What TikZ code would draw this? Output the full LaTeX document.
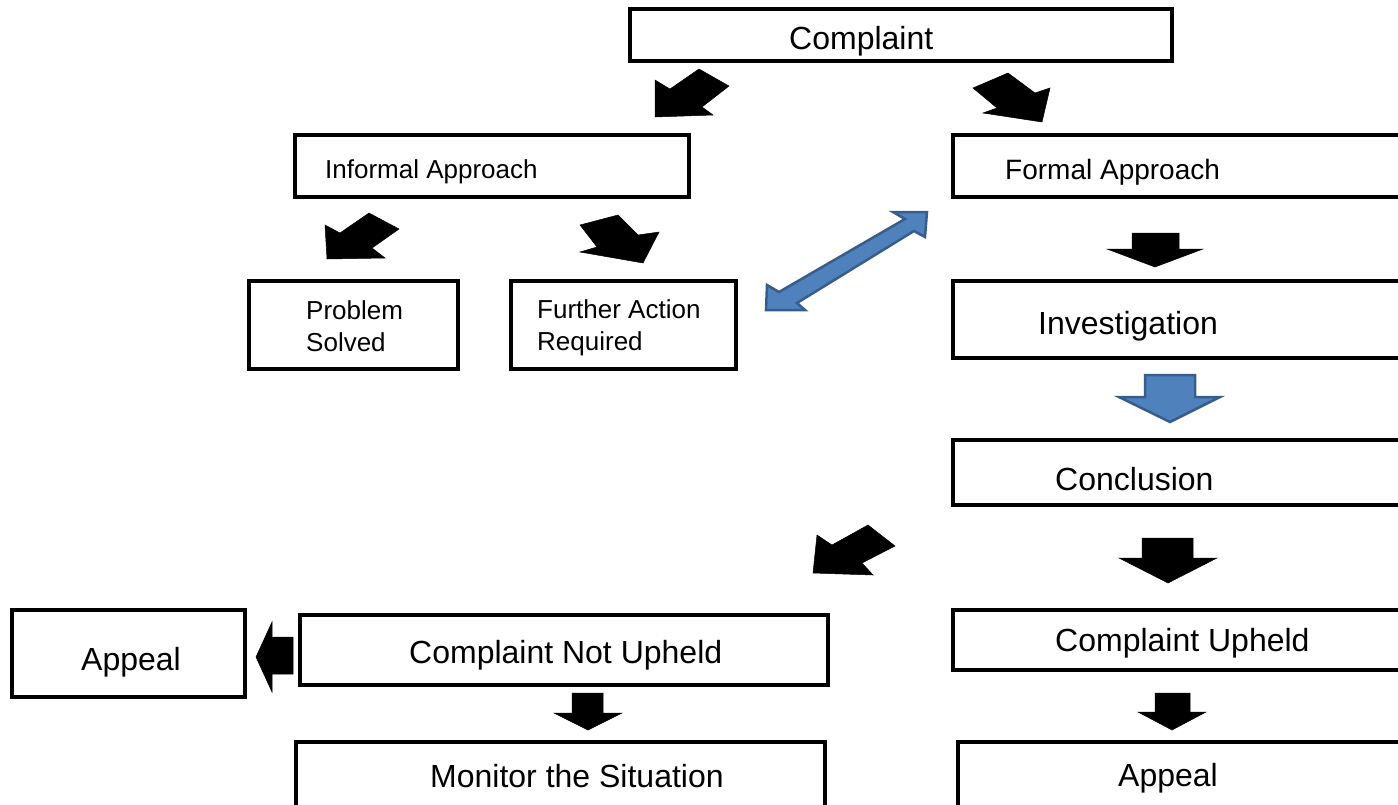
\documentclass[tikz,border=0pt]{standalone}
\usepackage{fontspec}
\setmainfont{Liberation Sans}
\begin{document}
\begin{tikzpicture}[x=1pt,y=-1pt,
  box/.style={draw=black,line width=3.5pt,rectangle,inner sep=0pt},
  big/.style={font=\fontsize{32}{38}\selectfont,anchor=west,inner sep=0pt,yshift=-3pt},
  small/.style={font=\fontsize{26}{32}\selectfont,anchor=west,inner sep=0pt,align=left,yshift=-3pt},
  blk/.style={fill=black,draw=black,line width=0.5pt,line join=miter},
  blu/.style={fill=arrowblue,draw=arrowedge,line width=2.5pt,line join=miter}]
\definecolor{arrowblue}{HTML}{4F81BD}
\definecolor{arrowedge}{HTML}{385D8A}
\useasboundingbox (0,0) rectangle (1398,804);
\clip (0,0) rectangle (1398,804);
% boxes
\node[box,minimum width=542,minimum height=52] (cmp) at (901,35) {};
\node[box,minimum width=394,minimum height=62] (inf) at (492,166) {};
\node[box,minimum width=457,minimum height=62] (frm) at (1181.5,166) {};
\node[box,minimum width=209,minimum height=88] (sol) at (353.5,325) {};
\node[box,minimum width=225,minimum height=88] (fur) at (623.5,325) {};
\node[box,minimum width=457,minimum height=77] (inv) at (1181.5,319.5) {};
\node[box,minimum width=457,minimum height=65] (con) at (1181.5,472.5) {};
\node[box,minimum width=528,minimum height=70] (nup) at (564,650) {};
\node[box,minimum width=233,minimum height=87] (apl) at (128.5,653.5) {};
\node[box,minimum width=457,minimum height=60] (up) at (1181.5,640) {};
\node[box,minimum width=529,minimum height=73] (mon) at (560.5,778.5) {};
\node[box,minimum width=452,minimum height=73] (apr) at (1184,778.5) {};
% texts
\node[big] (tcmp) at (789,38) {Complaint};
\node[small] (tinf) at (325,169) {Informal Approach};
\node[small,font=\fontsize{28}{34}\selectfont] (tfrm) at (1005,169) {Formal Approach};
\node[small] (tsol) at (306,323) {Problem\\Solved};
\node[small] (tfur) at (537,325) {Further Action\\Required};
\node[big] (tinv) at (1038,323) {Investigation};
\node[big] (tcon) at (1055,476) {Conclusion};
\node[big] (tup) at (1055,640) {Complaint Upheld};
\node[big] (tnup) at (409,652) {Complaint Not Upheld};
\node[big] (tapl) at (81,659) {Appeal};
\node[big] (tmon) at (430,773) {Monitor the Situation};
\node[big] (tapr) at (1118,775) {Appeal};
% diagonal block arrows
\draw[blk] (655,117) -- (655,80) -- (670,89) -- (699,69) -- (729,86) -- (702,107) -- (713,115) -- cycle;
\draw[blk] (1042,122) -- (983,113) -- (997,108) -- (973,88) -- (1008,73) -- (1035,93) -- (1050,88) -- cycle;
\draw[blk] (327,259) -- (325,225) -- (340,233) -- (369,213) -- (399,229) -- (372,248) -- (385,258) -- cycle;
\draw[blk] (643,263) -- (580,252) -- (597,247) -- (580,225) -- (618,215) -- (638,235) -- (659,232) -- cycle;
\draw[blk] (813,573) -- (817,535) -- (832,545) -- (868,525) -- (895,546) -- (862,563) -- (873,575) -- cycle;
% vertical block arrows
\draw[blk] (1155,267) -- (1107,249) -- (1132,249) -- (1132,233) -- (1179,233) -- (1179,249) -- (1203,249) -- cycle;
\draw[blu] (1170,422) -- (1119,397) -- (1145,397) -- (1145,375) -- (1195,375) -- (1195,397) -- (1220,397) -- cycle;
\draw[blk] (1168,583) -- (1119,558) -- (1142,558) -- (1142,538) -- (1193,538) -- (1193,558) -- (1217,558) -- cycle;
\draw[blk] (1172,730) -- (1138,712) -- (1155,712) -- (1155,693) -- (1190,693) -- (1190,712) -- (1206,712) -- cycle;
\draw[blk] (588,730) -- (554,713) -- (572,713) -- (572,693) -- (603,693) -- (603,713) -- (622,713) -- cycle;
\draw[blk] (256,657) -- (272,622) -- (272,637) -- (293,637) -- (293,674) -- (272,674) -- (272,692) -- cycle;
% blue double arrow
\draw[blu] (927,212) -- (925,237) -- (914,231) -- (797,303) -- (805,310) -- (766,310) -- (767,285) -- (779,292) -- (905,219) -- (893,212) -- cycle;
\end{tikzpicture}
\end{document}
